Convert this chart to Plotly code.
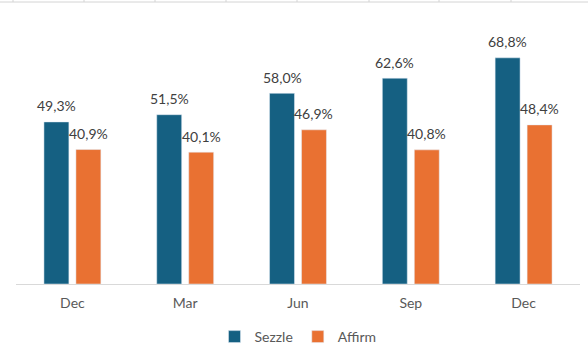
import plotly.graph_objects as go

tick_labels = ["Dec", "Mar", "Jun", "Sep", "Dec"]
sezzle = [49.3, 51.5, 58.0, 62.6, 68.8]
affirm = [40.9, 40.1, 46.9, 40.8, 48.4]

positions = list(range(len(tick_labels)))
BARGAP, GROUPGAP = 0.433, 0.22
slot = (1 - BARGAP) / 2
bar_w = slot * (1 - GROUPGAP)
series = [("Sezzle", sezzle, "#156082", -slot / 2), ("Affirm", affirm, "#E97132", slot / 2)]

fig = go.Figure()
annotations = []
for name, vals, color, center in series:
    fig.add_trace(go.Bar(
        name=name, x=positions, y=vals, marker_color=color,
        width=bar_w, offset=center - bar_w / 2,
    ))
    for p, v in zip(positions, vals):
        annotations.append(dict(
            x=p + center, y=v, xref="x", yref="y", text=f"{v:.1f}%".replace(".", ","),
            showarrow=False, yshift=16, font=dict(size=14, color="#404040"),
        ))

W, H = 588, 353
L, R, T, B = 16, 8, 21, 69
pw, ph = W - L - R, H - T - B

def px_x(p):
    return (p - L) / pw

def px_y(p):
    return (H - B - p) / ph

shapes = [dict(type="line", xref="paper", yref="paper",
               x0=px_x(0), x1=px_x(W), y0=px_y(2), y1=px_y(2),
               line=dict(color="#D4D4D4", width=1))]
for gx in [13, 84, 155, 226, 297, 369, 439, 511]:
    shapes.append(dict(type="line", xref="paper", yref="paper",
                       x0=px_x(gx), x1=px_x(gx), y0=px_y(0), y1=px_y(2),
                       line=dict(color="#D4D4D4", width=1)))

fig.update_layout(
    width=W, height=H,
    margin=dict(l=L, r=R, t=T, b=B),
    paper_bgcolor="white", plot_bgcolor="white",
    barmode="overlay",
    separators=",.",
    font=dict(family="Lato, Open Sans, sans-serif", size=14, color="#595959"),
    xaxis=dict(tickvals=positions, ticktext=tick_labels, range=[-0.5, len(positions) - 0.5],
               showline=True, automargin=False,
               linecolor="#D9D9D9", linewidth=1, ticks="outside", ticklen=6,
               tickcolor="rgba(0,0,0,0)", showgrid=False, zeroline=False,
               tickfont=dict(size=14, color="#595959")),
    yaxis=dict(range=[0, 80], visible=False, showgrid=False, zeroline=False),
    legend=dict(orientation="h", x=0.5, xanchor="center",
                yref="container", y=(H - 337) / H, yanchor="middle",
                font=dict(size=14, color="#595959"), itemwidth=30,
                traceorder="normal"),
    shapes=shapes,
    annotations=annotations,
    showlegend=True,
)

fig.write_html("out.html")
